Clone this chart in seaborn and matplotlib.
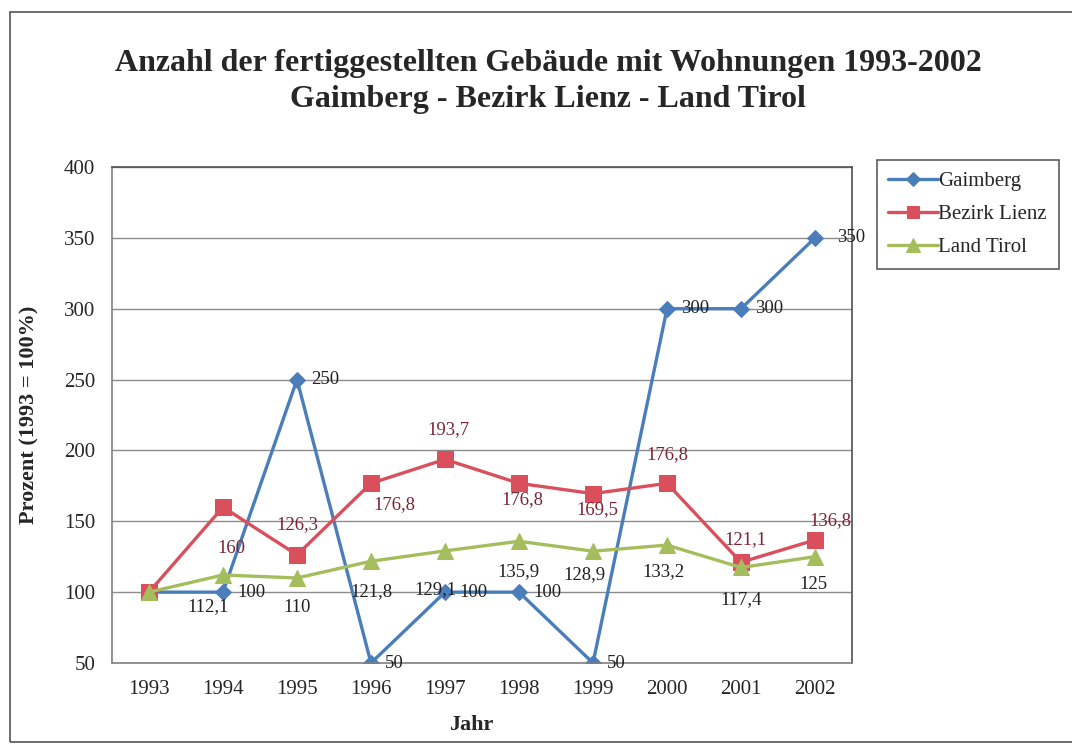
import numpy as np
import pandas as pd
import matplotlib
matplotlib.use('Agg')
import matplotlib.pyplot as plt
import seaborn as sns
from matplotlib.patches import Rectangle

# data (1993 = 100%)
years = ['1993', '1994', '1995', '1996', '1997', '1998', '1999', '2000', '2001', '2002']
gaimberg = [100, 100, 250, 50, 100, 100, 50, 300, 300, 350]
bezirk_lienz = [100, 160, 126.3, 176.8, 193.7, 176.8, 169.5, 176.8, 121.1, 136.8]
land_tirol = [100, 112.1, 110, 121.8, 129.1, 135.9, 128.9, 133.2, 117.4, 125]
y_ticks = [50, 100, 150, 200, 250, 300, 350, 400]

# label offsets in pixels (None = no label)
off_gaimberg = [None] + [(14, 0)] * 8 + [(22, 0)]
off_lienz = [None, (8, -41), (0, 30), (23, -21), (3, 30), (3, -16), (4, -16), (0, 29), (4, 23), (15, 19)]
off_tirol = [None, (-15, -32), (0, -30), (0, -30), (-10, -39), (-1, -30), (-9, -23), (-4, -27), (0, -32), (-2, -28)]

sns.set_style('white')
plt.rcParams['font.family'] = ['Liberation Serif', 'DejaVu Serif']

fig = plt.figure(figsize=(10.72, 7.45), dpi=100)
ax = fig.add_axes([112 / 1072, 1 - 663 / 745, 740 / 1072, 496 / 745])

series = [
    ('Gaimberg', gaimberg, '#4A7EBB', 'D', 8.5, off_gaimberg, '#222222'),
    ('Bezirk Lienz', bezirk_lienz, '#D9505C', 's', 11, off_lienz, '#7A2535'),
    ('Land Tirol', land_tirol, '#A5BD5C', '^', 12, off_tirol, '#222222'),
]

for name, vals, color, marker, ms, offs, tcol in series:
    df = pd.DataFrame({'Jahr': years, 'Wert': vals})
    sns.lineplot(data=df, x='Jahr', y='Wert', ax=ax, color=color, linewidth=2.4,
                 marker=marker, markersize=ms, markeredgecolor=color, label=name, sort=False)
    for i, (yr, v) in enumerate(zip(years, vals)):
        if offs[i] is None:
            continue
        txt = f'{v:g}'.replace('.', ',')
        ha = 'left' if name == 'Gaimberg' else 'center'
        ax.annotate(txt, (i, v), xytext=offs[i], textcoords='offset pixels',
                    ha=ha, va='center', fontsize=13.5, color=tcol)

ax.set_xlim(-0.5, len(years) - 0.5)
ax.set_ylim(50, 400)
ax.set_yticks(y_ticks)
ax.set_xticks(np.arange(-0.5, len(years), 1), minor=True)
ax.tick_params(axis='x', which='major', length=0, pad=12, labelsize=15)
ax.tick_params(axis='x', which='minor', length=6, direction='out', color='#808080', width=1)
ax.tick_params(axis='y', length=6, direction='out', color='#808080', width=1, pad=6, labelsize=15)
ax.yaxis.grid(True, color='#8c8c8c', linewidth=1)
ax.set_axisbelow(True)
for s in ['left', 'bottom']:
    ax.spines[s].set_color('#808080')
for s in ['top', 'right']:
    ax.spines[s].set_color('#505050')
for s in ax.spines.values():
    s.set_linewidth(1.2)

ax.set_xlabel('Jahr', fontsize=16, fontweight='bold')
ax.set_ylabel('Prozent (1993 = 100%)', fontsize=16, fontweight='bold')
ax.xaxis.set_label_coords(0.485, -0.105)
ax.yaxis.set_label_coords(-0.098, 0.5)

leg = ax.legend(loc='upper left', bbox_to_anchor=(877 / 1072, 1 - 160 / 745),
                bbox_transform=fig.transFigure, frameon=True, fancybox=False,
                edgecolor='#333333', fontsize=15, handlelength=2.4, handletextpad=0.0,
                borderpad=0.55, labelspacing=0.65, borderaxespad=0, markerscale=0.8)
leg.get_frame().set_linewidth(1.2)

fig.text(548 / 1072, 1 - 63 / 745, 'Anzahl der fertiggestellten Gebäude mit Wohnungen 1993-2002',
         ha='center', va='center', fontsize=23, fontweight='bold')
fig.text(548 / 1072, 1 - 99 / 745, 'Gaimberg - Bezirk Lienz - Land Tirol',
         ha='center', va='center', fontsize=23, fontweight='bold')

# outer chart frame
fig.patches.append(Rectangle((10 / 1072, 3 / 745), 1.05, 730 / 745, transform=fig.transFigure,
                             fill=False, edgecolor='#555555', linewidth=1.2))

fig.savefig('out.png', dpi=100)
